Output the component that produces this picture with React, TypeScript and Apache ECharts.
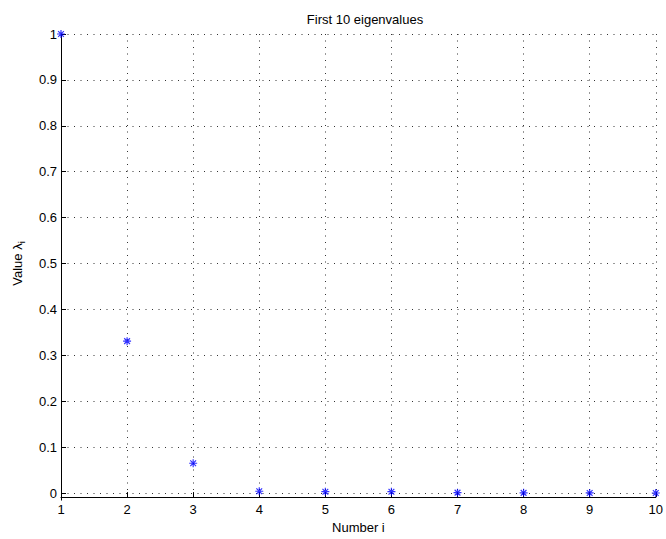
import React, { useEffect, useRef } from "react";
import * as echarts from "echarts";

const indices = [1, 2, 3, 4, 5, 6, 7, 8, 9, 10];
const eigenvalues = [1.0, 0.331, 0.065, 0.004, 0.003, 0.003, 0.001, 0.0005, 0.0003, 0.0002];
const titleText = "First 10 eigenvalues";
const xLabel = "Number i";

const asterisk =
  "path://M0,-5L0,5M-5,0L5,0M-3.6,-3.6L3.6,3.6M-3.6,3.6L3.6,-3.6";

export default function App() {
  const ref = useRef<HTMLDivElement>(null);
  useEffect(() => {
    document.body.style.margin = "0";
    const chart = echarts.init(ref.current!, null, { renderer: "svg" });
    const font = "Liberation Sans, Arial, Helvetica, sans-serif";
    const gridLine = { show: true, lineStyle: { color: "#333", type: [1, 5.5], width: 1 } };
    chart.setOption({
      animation: false,
      backgroundColor: "#fff",
      textStyle: { fontFamily: font },
      title: {
        text: titleText,
        left: 360,
        top: 8,
        textAlign: "center",
        textStyle: { fontSize: 13, fontWeight: "normal", color: "#000", fontFamily: font },
      },
      grid: { left: 61, right: 8, top: 34, bottom: 43, containLabel: false },
      graphic: [
        {
          type: "line",
          shape: { x1: 61.5, y1: 495, x2: 61.5, y2: 500.5 },
          style: { stroke: "#000", lineWidth: 1 },
          silent: true,
        },
      ],
      xAxis: {
        type: "value",
        min: 1,
        max: 10,
        interval: 1,
        offset: 4,
        name: xLabel,
        nameLocation: "middle",
        nameGap: 22,
        nameTextStyle: { fontSize: 13, color: "#000", fontFamily: font },
        axisLine: { onZero: false, lineStyle: { color: "#000", width: 1 } },
        axisTick: { inside: true, length: 5, lineStyle: { color: "#000" } },
        axisLabel: { margin: 6, fontSize: 13, color: "#000", fontFamily: font },
        splitLine: gridLine,
      },
      yAxis: {
        type: "value",
        min: 0,
        max: 1,
        interval: 0.1,
        name: "{n|Value λ}{s|i}",
        nameLocation: "middle",
        nameGap: 35,
        nameRotate: 90,
        nameTextStyle: {
          color: "#000",
          fontFamily: font,
          rich: {
            n: { fontSize: 13, lineHeight: 18, color: "#000", fontFamily: font },
            s: { fontSize: 9, lineHeight: 18, color: "#000", fontFamily: font, verticalAlign: "bottom" },
          },
        },
        axisLine: { lineStyle: { color: "#000", width: 1 } },
        axisTick: { inside: true, length: 5, lineStyle: { color: "#000" } },
        axisLabel: { margin: 4, fontSize: 13, color: "#000", fontFamily: font },
        splitLine: gridLine,
      },
      series: [
        {
          type: "scatter",
          data: indices.map((x, i) => [x, eigenvalues[i]]),
          symbol: asterisk,
          symbolSize: 8,
          clip: false,
          itemStyle: { color: "none", borderColor: "#0000ff", borderWidth: 1.2 },
          z: 10,
        },
      ],
    });
    return () => chart.dispose();
  }, []);
  return <div ref={ref} style={{ width: 666, height: 539 }} />;
}
